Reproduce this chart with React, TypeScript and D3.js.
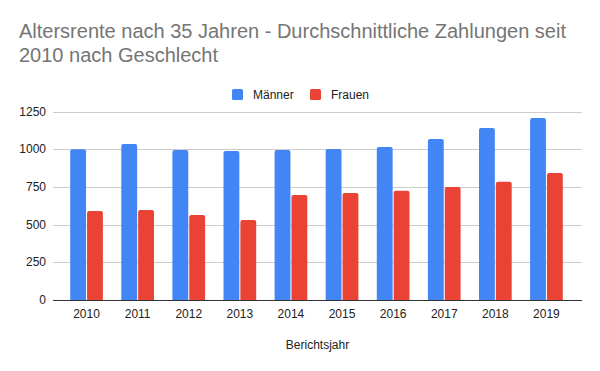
import React, { useEffect, useRef } from 'react';
import * as d3 from 'd3';

const years = ['2010', '2011', '2012', '2013', '2014', '2015', '2016', '2017', '2018', '2019'];
const maenner = [1000, 1035, 996, 989, 996, 1002, 1015, 1068, 1141, 1208];
const frauen = [591, 597, 564, 531, 697, 710, 725, 750, 785, 843];
const yTicks = [0, 250, 500, 750, 1000, 1250];
const seriesNames = ['Männer', 'Frauen'];
const colors = ['#4285F4', '#EA4335'];

const W = 600;
const H = 371;
const FONT = "Arial, 'Liberation Sans', sans-serif";

const App: React.FC = () => {
  const ref = useRef<SVGSVGElement | null>(null);

  useEffect(() => {
    if (!ref.current) return;
    const svg = d3.select(ref.current);
    svg.selectAll('*').remove();

    svg.append('rect').attr('width', W).attr('height', H).attr('fill', '#fff');

    // title
    const title = svg
      .append('text')
      .attr('font-family', FONT)
      .attr('font-size', 20)
      .attr('fill', '#757575');
    title.append('tspan').attr('x', 19).attr('y', 37.5).text('Altersrente nach 35 Jahren - Durchschnittliche Zahlungen seit');
    title.append('tspan').attr('x', 19).attr('y', 62).text('2010 nach Geschlecht');

    // legend
    const legendX = [232, 310];
    seriesNames.forEach((name, i) => {
      const g = svg.append('g').attr('transform', `translate(${legendX[i]},89)`);
      g.append('rect').attr('width', 11).attr('height', 11).attr('rx', 1.5).attr('fill', colors[i]);
      g.append('text')
        .attr('x', 21)
        .attr('y', 10)
        .attr('font-family', FONT)
        .attr('font-size', 12)
        .attr('fill', '#222')
        .text(name);
    });

    const y = d3.scaleLinear().domain([0, 1250]).range([300, 111.6]);
    const x = d3.scaleBand().domain(years).range([61, 572]).paddingInner(0.36).paddingOuter(0.18);
    const inner = d3.scaleBand().domain(seriesNames).range([0, x.bandwidth()]).paddingInner(0.06);

    // grid
    svg
      .append('g')
      .selectAll('line')
      .data(yTicks.filter((t) => t > 0))
      .enter()
      .append('line')
      .attr('x1', 53)
      .attr('x2', 582)
      .attr('y1', (d) => Math.round(y(d)) + 0.5)
      .attr('y2', (d) => Math.round(y(d)) + 0.5)
      .attr('stroke', '#cccccc')
      .attr('stroke-width', 1);

    // y labels
    svg
      .append('g')
      .selectAll('text')
      .data(yTicks)
      .enter()
      .append('text')
      .attr('x', 46)
      .attr('y', (d) => y(d) + 4)
      .attr('text-anchor', 'end')
      .attr('font-family', FONT)
      .attr('font-size', 12)
      .attr('fill', '#222')
      .text((d) => String(d));

    // bars with rounded tops
    const barPath = (x0: number, w: number, top: number, bottom: number) => {
      const r = Math.min(2, w / 2);
      return `M${x0},${bottom}V${top + r}Q${x0},${top} ${x0 + r},${top}H${x0 + w - r}Q${x0 + w},${top} ${x0 + w},${top + r}V${bottom}Z`;
    };
    const series = [maenner, frauen];
    series.forEach((vals, si) => {
      svg
        .append('g')
        .selectAll('path')
        .data(vals)
        .enter()
        .append('path')
        .attr('d', (d, i) => barPath(x(years[i])! + inner(seriesNames[si])!, inner.bandwidth(), y(d), y(0)))
        .attr('fill', colors[si]);
    });

    // baseline
    svg
      .append('line')
      .attr('x1', 53)
      .attr('x2', 582)
      .attr('y1', 300.5)
      .attr('y2', 300.5)
      .attr('stroke', '#333')
      .attr('stroke-width', 1);

    // x labels
    svg
      .append('g')
      .selectAll('text')
      .data(years)
      .enter()
      .append('text')
      .attr('x', (d) => x(d)! + x.bandwidth() / 2)
      .attr('y', 317.5)
      .attr('text-anchor', 'middle')
      .attr('font-family', FONT)
      .attr('font-size', 12)
      .attr('fill', '#222')
      .text((d) => d);

    svg
      .append('text')
      .attr('x', 317.5)
      .attr('y', 348.5)
      .attr('text-anchor', 'middle')
      .attr('font-family', FONT)
      .attr('font-size', 12)
      .attr('fill', '#222')
      .text('Berichtsjahr');
  }, []);

  return <svg ref={ref} width={W} height={H} style={{ position: 'absolute', top: 0, left: 0 }}></svg>;
};

export default App;
